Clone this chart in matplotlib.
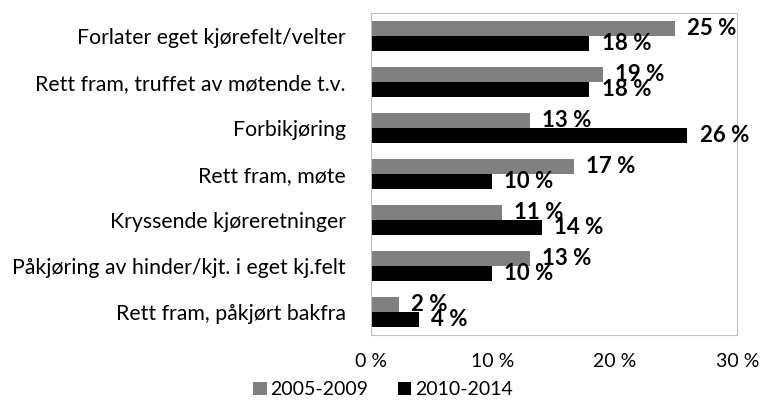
import matplotlib
matplotlib.use("Agg")
import matplotlib.pyplot as plt
import numpy as np

categories = ["Forlater eget kjørefelt/velter",
              "Rett fram, truffet av møtende t.v.",
              "Forbikjøring",
              "Rett fram, møte",
              "Kryssende kjøreretninger",
              "Påkjøring av hinder/kjt. i eget kj.felt",
              "Rett fram, påkjørt bakfra"]
s2005 = [24.9, 19.0, 13.0, 16.6, 10.7, 13.0, 2.3]
s2010 = [17.9, 17.9, 25.9, 9.9, 14.0, 9.9, 3.9]
series_names = ["2005-2009", "2010-2014"]
xticks = [0, 10, 20, 30]
xticklabels = ["0 %", "10 %", "20 %", "30 %"]

plt.rcParams['font.family'] = ['Lato', 'DejaVu Sans']

fig = plt.figure(figsize=(7.6, 4.07), dpi=100)
ax = fig.add_axes([0.488, 0.177, 0.482, 0.791])

n = len(categories)
y = np.arange(n)
h = 0.326
b1 = ax.barh(y - h/2, s2005, height=h, color="#808080", label=series_names[0])
b2 = ax.barh(y + h/2, s2010, height=h, color="#000000", label=series_names[1])

for bars, vals in ((b1, s2005), (b2, s2010)):
    for bar, v in zip(bars, vals):
        ax.annotate(f"{round(v):.0f} %", (v, bar.get_y() + bar.get_height()/2),
                    xytext=(9, 0), textcoords="offset points",
                    va="center", ha="left", fontsize=16, fontweight="bold",
                    color="black", annotation_clip=False)

ax.set_ylim(n - 0.5, -0.5)
ax.set_xlim(0, 30)
ax.set_yticks(y)
ax.set_yticklabels(categories, fontsize=15.3)
ax.set_xticks(xticks)
ax.set_xticklabels(xticklabels, fontsize=14)
ax.tick_params(length=0)
ax.tick_params(axis='y', pad=18)
ax.tick_params(axis='x', pad=13)
for sp in ax.spines.values():
    sp.set_color("#bfbfbf")
    sp.set_linestyle((0, (1, 1)))
    sp.set_linewidth(0.8)

fig.legend(handles=[b1, b2], labels=series_names, loc="center",
           bbox_to_anchor=(0.504, 0.042), ncol=2, frameon=False,
           fontsize=14, handlelength=0.7, handleheight=0.7,
           handletextpad=0.2, columnspacing=1.5,
           borderpad=0, borderaxespad=0)

fig.savefig("out.png", dpi=100)
